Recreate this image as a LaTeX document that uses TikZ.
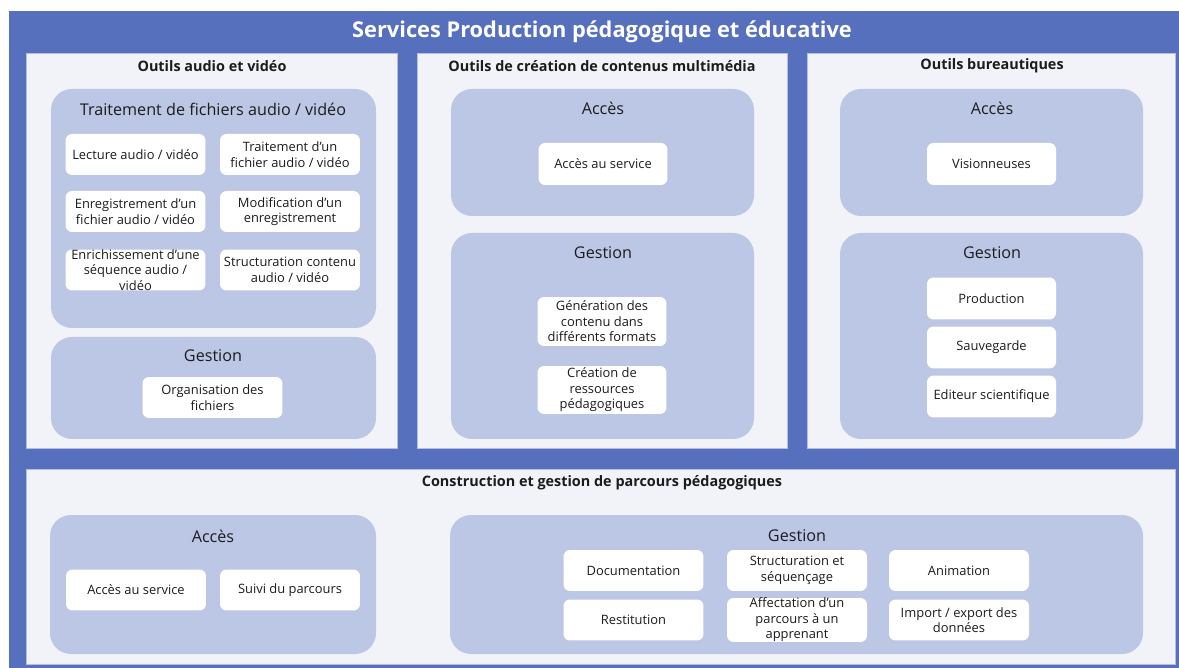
\documentclass[tikz,border=0pt]{standalone}
\usepackage{fontspec}
\setmainfont{Open Sans}
\usepackage[rgb]{xcolor}
\usepackage{tikz}

\definecolor{cadre}{HTML}{5770BE}
\definecolor{fond}{HTML}{F2F3F9}
\definecolor{groupe}{HTML}{BCC7E6}
\definecolor{encre}{HTML}{1C1C1C}

\begin{document}
\begin{tikzpicture}[x=0.02cm, y=-0.02cm,
  panneau/.style={fill=fond, draw=fond!60!cadre, line width=0.3pt},
  bloc/.style={fill=groupe, rounded corners=0.42cm},
  carte/.style={fill=white, rounded corners=0.13cm, inner sep=0pt, align=center,
    text=encre, font=\fontsize{7.35}{8.8}\selectfont,
    minimum width=2.8cm, minimum height=0.82cm},
  petite/.style={minimum width=2.58cm, minimum height=0.84cm},
  titrepanneau/.style={text=encre, font=\fontsize{8.2}{9}\selectfont\bfseries},
  titrebloc/.style={text=encre, font=\fontsize{9.2}{10}\selectfont}]

\useasboundingbox (0,0) rectangle (1179,668);

% blue frame and main title
\fill[cadre] (9,11) rectangle (1179,668);
\node[text=white, font=\fontsize{12.4}{14}\selectfont\bfseries] (titre) at (602,32)
{Services Production pédagogique et éducative};

% the three upper panels + the lower one
\filldraw[panneau] (26,53) rectangle (397,448);
\filldraw[panneau] (417,53) rectangle (787,448);
\filldraw[panneau] (807,53) rectangle (1175,448);
\filldraw[panneau] (26,469) rectangle (1175,664);

\path
(212,66) node[titrepanneau] (audio) {Outils audio et vidéo}
(602,66) node[titrepanneau] (multimedia) {Outils de création de contenus multimédia}
(992,66) node[titrepanneau] (bureau) {Outils bureautiques}
(602,483) node[titrepanneau] (parcours) {Construction et gestion de parcours pédagogiques};

% groups (light blue rounded areas)
\fill[bloc] (51,89) rectangle (376,328);
\fill[bloc] (51,337) rectangle (376,439);
\fill[bloc] (451,89) rectangle (754,216);
\fill[bloc] (451,233) rectangle (754,439);
\fill[bloc] (840,89) rectangle (1143,216);
\fill[bloc] (840,233) rectangle (1143,439);
\fill[bloc] (50,515) rectangle (376,654);
\fill[bloc] (450,515) rectangle (1143,654);

\path
(213,109) node[titrebloc] (traitement) {Traitement de fichiers audio / vidéo}
(213,356) node[titrebloc] (gestionA) {Gestion}
(603,108) node[titrebloc] (accesM) {Accès}
(603,253) node[titrebloc] (gestionM) {Gestion}
(992,108) node[titrebloc] (accesB) {Accès}
(992,253) node[titrebloc] (gestionB) {Gestion}
(213,536) node[titrebloc] (accesP) {Accès}
(797,536) node[titrebloc] (gestionP) {Gestion};

% audio / video
\path
(135.5,154.5) node[carte] (lecture) {Lecture audio / vidéo}
(290,154.5) node[carte] (traitfich) {Traitement d’un\\fichier audio / vidéo}
(135.5,211.5) node[carte] (enreg) {Enregistrement d’un\\fichier audio / vidéo}
(290,211.5) node[carte] (modif) {Modification d’un\\enregistrement}
(135.5,270) node[carte] (enrich) {Enrichissement d’une\\séquence audio /\\vidéo}
(290,270) node[carte] (struct) {Structuration contenu\\audio / vidéo}
(212.5,397.5) node[carte] (orga) {Organisation des\\fichiers};

% multimedia
\path
(603,164) node[carte, petite] (accesserv) {Accès au service}
(602,321.5) node[carte, petite, minimum height=0.98cm] (generation) {Génération des\\contenu dans\\différents formats}
(602,390) node[carte, petite, minimum height=0.96cm] (creation) {Création de\\ressources\\pédagogiques};

% bureautique
\path
(991.5,164) node[carte, petite] (vision) {Visionneuses}
(991.5,298.5) node[carte, petite] (production) {Production}
(991.5,347.5) node[carte, petite] (sauvegarde) {Sauvegarde}
(991.5,396.5) node[carte, petite] (editeur) {Editeur scientifique};

% parcours
\path
(136,590) node[carte] (accesparc) {Accès au service}
(290,590) node[carte] (suivi) {Suivi du parcours}
(633.5,570.5) node[carte] (doc) {Documentation}
(797,570.5) node[carte] (sequence) {Structuration et\\séquençage}
(959,570.5) node[carte] (animation) {Animation}
(633.5,620) node[carte] (restitution) {Restitution}
(797,620) node[carte] (affectation) {Affectation d’un\\parcours à un\\apprenant}
(959,620) node[carte] (import) {Import / export des\\données};

\end{tikzpicture}
\end{document}
